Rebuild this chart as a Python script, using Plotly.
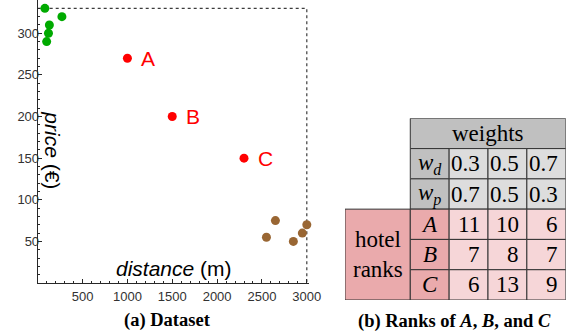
import plotly.graph_objects as go

# ---------------- data ----------------
green_x = [80, 270, 130, 120, 100]
green_y = [330, 320, 310, 300, 290]
red_x = [1000, 1500, 2300]
red_y = [270, 200, 150]
red_labels = ["A", "B", "C"]
brown_x = [2550, 2650, 2850, 2950, 3000]
brown_y = [55, 75, 50, 60, 70]

x_ticks = [500, 1000, 1500, 2000, 2500, 3000]
y_ticks = [50, 100, 150, 200, 250, 300]

weight_d = ["0.3", "0.5", "0.7"]
weight_p = ["0.7", "0.5", "0.3"]
hotels = ["A", "B", "C"]
ranks = [[11, 10, 6], [7, 8, 7], [6, 13, 9]]

# ---------------- styles ----------------
SANS = "Liberation Sans, Arial, sans-serif"
SERIF = "Liberation Serif, Times New Roman, serif"
GREEN = "rgb(0,170,0)"
RED = "rgb(255,0,0)"
BROWN = "rgb(153,102,51)"
HDR_GRAY = "rgb(192,192,192)"
VAL_GRAY = "rgb(221,221,221)"
HDR_PINK = "rgb(234,170,172)"
VAL_PINK = "rgb(246,214,216)"
BORDER = "rgb(50,50,50)"
TABLE_FS = 23

fig = go.Figure()

# dashed bounding lines from data maxima
all_x = green_x + red_x + brown_x
all_y = green_y + red_y + brown_y
xmax, ymax = max(all_x), max(all_y)
fig.add_trace(go.Scatter(x=[0, xmax, xmax], y=[ymax, ymax, 0], mode="lines",
                         line=dict(color="rgb(60,60,60)", width=1.2, dash="3px,3px"),
                         hoverinfo="skip", showlegend=False))

for xs, ys, c in [(green_x, green_y, GREEN), (red_x, red_y, RED), (brown_x, brown_y, BROWN)]:
    fig.add_trace(go.Scatter(x=xs, y=ys, mode="markers",
                             marker=dict(color=c, size=9, line=dict(width=0)),
                             showlegend=False, cliponaxis=False))

annotations = []
for x, y, t in zip(red_x, red_y, red_labels):
    annotations.append(dict(x=x, y=y, xref="x", yref="y", text=t, showarrow=False,
                            xanchor="left", xshift=12, font=dict(family=SANS, size=21, color=RED)))

annotations.append(dict(x=1520, y=18, xref="x", yref="y", text="<i>distance</i> (m)",
                        showarrow=False, font=dict(family=SANS, size=21, color="black")))
annotations.append(dict(x=165, y=160, xref="x", yref="y", text="<i>price</i> (€)", textangle=90,
                        showarrow=False, font=dict(family=SANS, size=21, color="black")))

# ---------------- table (on x2/y2) ----------------
col_w = [1.68, 1, 1, 1, 1]
col_edges = [0]
for w in col_w:
    col_edges.append(col_edges[-1] + w)
shapes = []


def cell(c0, c1, r0, r1, fill):
    shapes.append(dict(type="rect", xref="x2", yref="y2",
                       x0=col_edges[c0], x1=col_edges[c1], y0=r0, y1=r1,
                       fillcolor=fill, line=dict(color=BORDER, width=1), layer="below"))


def text(c0, c1, r, s, align="center", italic=False):
    if italic:
        s = "<i>" + s + "</i>"
    if align == "center":
        x, xa, xs = (col_edges[c0] + col_edges[c1]) / 2, "center", 0
    else:
        x, xa, xs = col_edges[c1], "right", -6
    annotations.append(dict(x=x, y=r + 0.5, xref="x2", yref="y2", text=s, showarrow=False,
                            xanchor=xa, xshift=xs, font=dict(family=SERIF, size=TABLE_FS, color="black")))


# header "weights"
cell(1, 5, 0, 1, HDR_GRAY)
text(1, 5, 0, "weights")
w_labels = ["<i>w</i><sub><i>d</i></sub>", "<i>w</i><sub><i>p</i></sub>"]
for ri, (lab, vals) in enumerate(zip(w_labels, [weight_d, weight_p])):
    r = 1 + ri
    cell(1, 2, r, r + 1, HDR_GRAY)
    text(1, 2, r, lab)
    for ci, v in enumerate(vals):
        cell(2 + ci, 3 + ci, r, r + 1, VAL_GRAY)
        text(2 + ci, 3 + ci, r, v, align="right")

cell(0, 1, 3, 3 + len(hotels), HDR_PINK)
annotations.append(dict(x=col_edges[0] + col_w[0] / 2, y=3 + len(hotels) / 2, xref="x2", yref="y2",
                        text="hotel<br>ranks", showarrow=False,
                        font=dict(family=SERIF, size=TABLE_FS, color="black")))
for hi, (h, row) in enumerate(zip(hotels, ranks)):
    r = 3 + hi
    cell(1, 2, r, r + 1, HDR_PINK)
    text(1, 2, r, h, italic=True)
    for ci, v in enumerate(row):
        cell(2 + ci, 3 + ci, r, r + 1, VAL_PINK)
        text(2 + ci, 3 + ci, r, str(v), align="right")

fig.add_trace(go.Scatter(x=[None], y=[None], xaxis="x2", yaxis="y2", showlegend=False, hoverinfo="skip"))

# captions
annotations.append(dict(x=171 / 579, y=1 - 320 / 333, xref="paper", yref="paper",
                        xanchor="center", yanchor="middle",
                        text="<b>(a) Dataset</b>", showarrow=False,
                        font=dict(family=SERIF, size=18.5, color="black")))
annotations.append(dict(x=464 / 579, y=1 - 321 / 333, xref="paper", yref="paper",
                        xanchor="center", yanchor="middle",
                        text="<b>(b) Ranks of <i>A</i>, <i>B</i>, and <i>C</i></b>", showarrow=False,
                        font=dict(family=SERIF, size=18.5, color="black")))

axis_common = dict(showgrid=False, zeroline=False, showline=True, linecolor="rgb(40,40,40)", linewidth=1,
                   ticks="inside", ticklen=4, tickcolor="rgb(40,40,40)",
                   tickfont=dict(family=SANS, size=13, color="rgb(50,50,50)"))

fig.update_layout(
    width=579, height=333, margin=dict(l=0, r=0, t=0, b=0),
    paper_bgcolor="white", plot_bgcolor="rgba(0,0,0,0)",
    xaxis=dict(domain=[38.5 / 579, (38.5 + 3030 * 0.0916) / 579], range=[0, 3030],
               tickvals=x_ticks, ticktext=[str(v) for v in x_ticks], ticklabelstandoff=1,
               minor=dict(dtick=100, ticklen=2, ticks="inside", tickcolor="rgb(40,40,40)"),
               **axis_common),
    yaxis=dict(domain=[(333 - 283) / 333, 1.0], range=[0, 340],
               tickvals=y_ticks, ticktext=[str(v) for v in y_ticks], ticklabelstandoff=-5,
               minor=dict(dtick=10, ticklen=2, ticks="inside", tickcolor="rgb(40,40,40)"),
               **axis_common),
    xaxis2=dict(domain=[352.3 / 579, 577.7 / 579], range=[0, col_edges[-1]], visible=False, anchor="y2"),
    yaxis2=dict(domain=[(333 - 300) / 333, (333 - 118.3) / 333], range=[6, 0], visible=False, anchor="x2"),
    shapes=shapes, annotations=annotations,
)

fig.write_html("out.html", post_script="document.body.style.margin='0';",
               config={"displayModeBar": False})
